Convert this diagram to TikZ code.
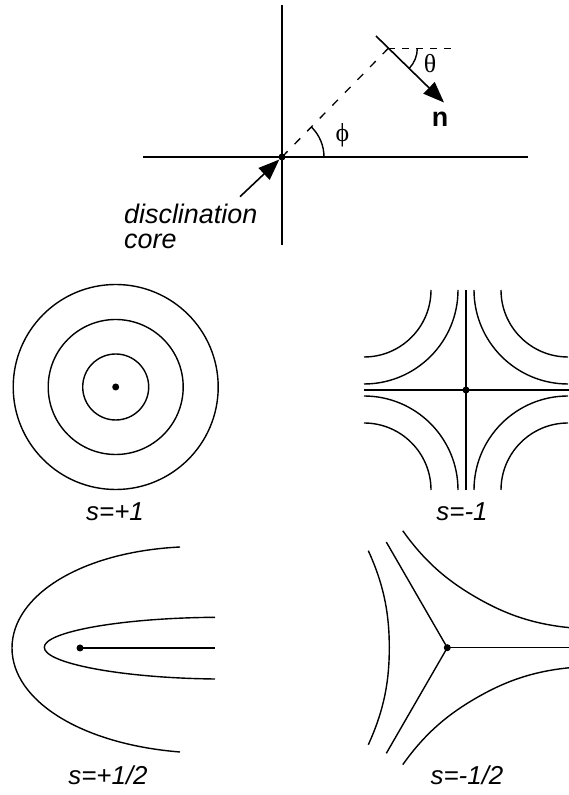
\documentclass[tikz,border=0pt]{standalone}
\usepackage{fontspec}
\usetikzlibrary{arrows.meta}
\newfontfamily\labfont{Liberation Sans}
\newfontfamily\grkfont{Liberation Serif}
\begin{document}
\begin{tikzpicture}[x=1bp,y=1bp,
  ln/.style={line width=1.4bp},
  lbl/.style={font=\labfont\itshape\fontsize{26}{30}\selectfont, inner sep=0},
  txt/.style={font=\labfont\itshape\fontsize{27}{30}\selectfont, inner sep=0},
  big/.style={-{Triangle[length=21bp,width=16bp]}, line width=1.6bp},
  dot/.style={circle, fill, inner sep=0, minimum size=7bp},
  dsh/.style={line width=1.3bp, dash pattern=on 8bp off 10bp},
  grk/.style={font=\grkfont\fontsize{26}{30}\selectfont, inner sep=0}]
\useasboundingbox (0,0) rectangle (569,795);

% ---------- top: coordinate system ----------
\coordinate (O) at (282,638);
\coordinate (vt) at (282,790);
\coordinate (vb) at (282,550);
\coordinate (hl) at (143,638);
\coordinate (hr) at (528,638);
\draw[ln] (vt) -- (vb);
\draw[ln] (hl) -- (hr);
\node[dot] (core) at (O) {};
\coordinate (P) at (388.3,746.7);
\coordinate (Pr) at (454,746.7);
\coordinate (A) at (376,759);
\coordinate (B) at (444,692.5);
\draw[dsh] (O) -- (P);
\draw[dsh, dash pattern=on 7bp off 7bp] (P) -- (Pr);
\draw[big] (A) -- (B);
\draw[ln] (P) ++(29,0) arc[start angle=0,end angle=-44.4,radius=29];
\draw[ln] (O) ++(42,0) arc[start angle=0,end angle=45.6,radius=42];
\node[grk] (th) at (430,731.7) {θ};
\node[grk] (ph) at (342.5,660) {ϕ};
\node[font=\labfont\bfseries\fontsize{27}{30}\selectfont, inner sep=0] (nl) at (440,676) {n};
\coordinate (ct) at (240,598.3);
\draw[big] (ct) -- (core);
\node[txt, anchor=base west] (t1) at (124,571) {disclination};
\node[txt, anchor=base west] (t2) at (124,546) {core};

% ---------- s=+1 ----------
\coordinate (C1) at (115.7,408);
\draw[ln] (C1) circle[radius=102.5];
\draw[ln] (C1) circle[radius=67.5];
\draw[ln] (C1) circle[radius=33];
\node[dot] (d1) at (C1) {};
\node[lbl] (l1) at (115,283) {s=+1};

% ---------- s=-1 ----------
\coordinate (C2) at (466,405);
\coordinate (h2l) at (364,405);
\coordinate (h2r) at (569,405);
\coordinate (v2t) at (466,505);
\coordinate (v2b) at (466,305);
\draw[ln] (h2l) -- (h2r);
\draw[ln] (v2t) -- (v2b);
\node[dot] (d2) at (C2) {};
\foreach \sx/\sy/\a/\b in {-1/1/0/-90, 1/1/180/270, -1/-1/0/90, 1/-1/180/90}{
  \foreach \r in {67,94}{
    \draw[ln, shift={(C2)}] ({\sx*(102-\r)},{\sy*100})
      arc[start angle=\a, end angle=\b, radius=\r];
  }
}
\node[lbl] (l2) at (462,283) {s=-1};

% ---------- s=+1/2 ----------
\coordinate (C3) at (80,147);
\coordinate (e3) at (215,147);
\node[dot] (d3) at (C3) {};
\draw[ln] (d3.center) -- (e3);
\draw[ln] (215,177.7) .. controls (120,177) and (44,163) .. (44.3,147.7)
  .. controls (44,132) and (120,117) .. (215,116);
\draw[ln] (180,248) .. controls (80,243) and (12,199) .. (12,147)
  .. controls (12,95) and (80,51) .. (180,43);
\node[lbl] (l3) at (108,20) {s=+1/2};

% ---------- s=-1/2 ----------
\coordinate (C4) at (447.3,147.3);
\path (C4) ++(0:122) coordinate (r4);
\path (C4) ++(120:122) coordinate (u4);
\path (C4) ++(240:122) coordinate (w4);
\draw[ln] (C4) -- (r4);
\draw[ln] (C4) -- (u4);
\draw[ln] (C4) -- (w4);
\node[dot] (d4) at (C4) {};
\foreach \r in {0,120,240}{
  \draw[ln, shift={(C4)}, rotate=\r] (-79,97) .. controls (-62,60) and (-58,30) .. (-58,0)
    .. controls (-58,-30) and (-62,-60) .. (-79,-97);
}
\node[lbl] (l4) at (467,20) {s=-1/2};
\end{tikzpicture}
\end{document}
